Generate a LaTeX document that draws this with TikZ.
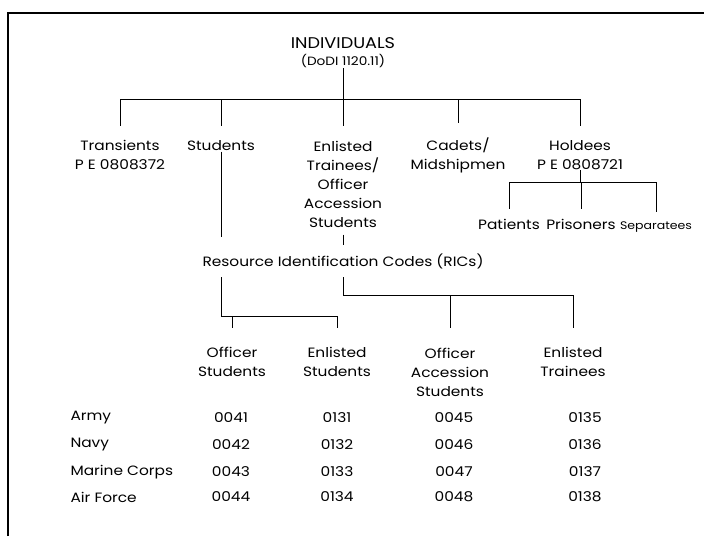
\documentclass[tikz,border=0pt]{standalone}
\usepackage{fontspec}
\setmainfont{Poppins}[FakeStretch = 1.14]
\usetikzlibrary{positioning,calc}

\begin{document}
\begin{tikzpicture}[x = 1pt, y = -1pt, line width = 1pt,
  lbl/.style = {inner sep = 0pt, align = center, font = \fontsize{13.5}{19}\selectfont},
  small/.style = {inner sep = 0pt, font = \fontsize{11}{13}\selectfont}]
\useasboundingbox (0, 0) rectangle (704, 536);
% frame
\draw[line width = 1.6pt] (8, 536) -- (8, 13) -- (704, 13);
% top level
\node[inner sep = 0pt, font = \fontsize{15.5}{18}\selectfont] (indiv) at (343, 43) {INDIVIDUALS};
\node[small, font = \fontsize{12}{13}\selectfont] (dodi) at (343, 61) {(DoDI 1120.11)};
\node[lbl] (trans) at (120, 155) {Transients\\P E 0808372};
\node[lbl] (stud) at (221, 146) {Students};
\node[lbl] (enl) at (343, 184) {Enlisted\\Trainees/\\Officer\\Accession\\Students};
\node[lbl] (cad) at (458, 155) {Cadets/\\Midshipmen};
\node[lbl] (hold) at (580, 155) {Holdees\\P E 0808721};
\coordinate (topbar) at (0, 99);
\draw (dodi) -- (dodi |- topbar);
\draw (trans |- topbar) -- (hold |- topbar);
\foreach \n in {trans, stud, enl, cad, hold}
  \draw[shorten >= 14pt] (\n |- topbar) -- (\n);
% holdees
\node[lbl] (pat) at (509, 224) {Patients};
\node[lbl] (pris) at (581, 224) {Prisoners};
\node[small, anchor = base] (sep) at (656, 0 |- pris.base) {Separatees};
\coordinate (holdbar) at (0, 182);
\draw (hold) -- (hold |- holdbar);
\draw (pat |- holdbar) -- (sep |- holdbar);
\foreach \n in {pat, pris, sep}
  \draw[shorten >= 9pt] (\n |- holdbar) -- (\n);
% resource identification codes
\node[lbl] (rics) at (343, 261) {Resource Identification Codes (RICs)};
\draw[shorten >= 16pt] (stud) -- (stud |- rics.north);
\draw[shorten <= 7pt, shorten >= 8pt] (enl) -- (rics);
\node[lbl] (ofst) at (232, 362) {Officer\\Students};
\node[lbl] (ensd) at (337, 362) {Enlisted\\Students};
\node[lbl] (ofac) at (450, 372) {Officer\\Accession\\Students};
\node[lbl] (entr) at (573, 362) {Enlisted\\Trainees};
\coordinate (lbar) at (0, 316);
\coordinate (rbar) at (0, 295);
\draw[shorten <= 8pt, shorten >= 19pt] (stud |- rics.south) -- (stud |- lbar) -- (ensd |- lbar) -- (ensd);
\draw[shorten >= 19pt] (ofst |- lbar) -- (ofst);
\draw[shorten <= 8pt, shorten >= 19pt] (rics) -- (rics |- rbar) -- (entr |- rbar) -- (entr);
\draw[shorten >= 19pt] (ofac |- rbar) -- (ofac);
% table
\node[lbl, anchor = west] (army) at (70, 418) {Army};
\node[lbl, anchor = west] (navy) at (70, 445) {Navy};
\node[lbl, anchor = west] (usmc) at (70, 472) {Marine Corps};
\node[lbl, anchor = west] (usaf) at (70, 497) {Air Force};
\foreach \r/\a/\b/\c/\d in {army/0041/0131/0045/0135, navy/0042/0132/0046/0136,
                            usmc/0043/0133/0047/0137, usaf/0044/0134/0048/0138} {
  \node[lbl] (\r-a) at ($(ofst |- \r) + (-1, 0)$) {\a};
  \node[lbl] (\r-b) at ($(ensd |- \r) + (0, 0)$) {\b};
  \node[lbl] (\r-c) at ($(ofac |- \r) + (4, 0)$) {\c};
  \node[lbl] (\r-d) at ($(entr |- \r) + (12, 0)$) {\d};
}
\end{tikzpicture}
\end{document}
